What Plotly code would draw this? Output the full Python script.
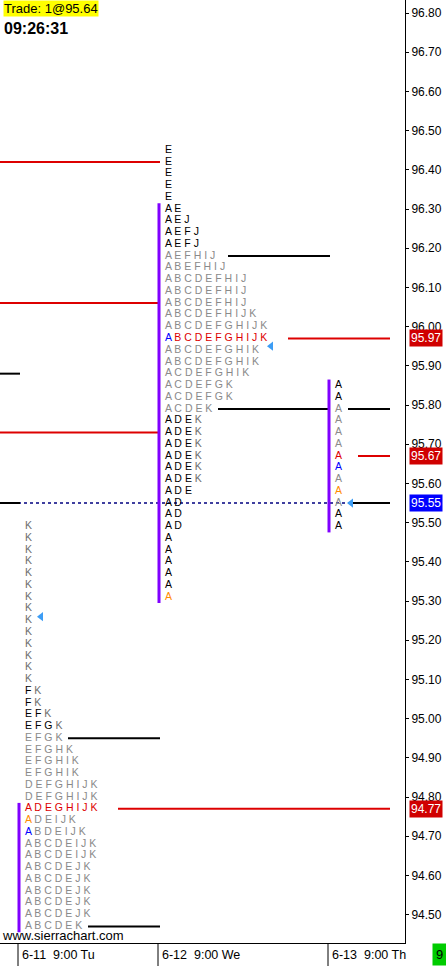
import plotly.graph_objects as go

# ---------------- data ----------------
session_labels = ["6-11  9:00 Tu", "6-12  9:00 We", "6-13  9:00 Th"]
session_bar = [18, 158, 328]          # bar index where each session starts

s1_prices = [95.49, 95.46, 95.43, 95.40, 95.37, 95.34, 95.31, 95.28, 95.25, 95.22,
             95.19, 95.16, 95.13, 95.10, 95.07, 95.04, 95.01, 94.98, 94.95, 94.92,
             94.89, 94.86, 94.83, 94.80, 94.77, 94.74, 94.71, 94.68, 94.65, 94.62,
             94.59, 94.56, 94.53, 94.50, 94.47]
s1_tpo = ["K", "K", "K", "K", "K", "K", "K", "K", "K", "K",
          "K", "K", "K", "K", "FK", "FK", "EFK", "EFGK", "EFGK", "EFGHK",
          "EFGHIK", "EFGHIK", "DEFGHIJK", "DEFGHIJK", "ADEGHIJK", "ADEIJK", "ABDEIJK",
          "ABCDEIJK", "ABCDEIJK", "ABCDEJK",
          "ABCDEJK", "ABCDEJK", "ABCDEJK", "ABCDEJK", "ABCDEK"]

s2_prices = [96.45, 96.42, 96.39, 96.36, 96.33, 96.30, 96.27, 96.24, 96.21, 96.18,
             96.15, 96.12, 96.09, 96.06, 96.03, 96.00, 95.97, 95.94, 95.91, 95.88,
             95.85, 95.82, 95.79, 95.76, 95.73, 95.70, 95.67, 95.64, 95.61, 95.58,
             95.55, 95.52, 95.49, 95.46, 95.43, 95.40, 95.37, 95.34, 95.31]
s2_tpo = ["E", "E", "E", "E", "E", "AE", "AEJ", "AEFJ", "AEFJ", "AEFHIJ",
          "ABEFHIJ", "ABCDEFHIJ", "ABCDEFHIJ", "ABCDEFHIJ", "ABCDEFHIJK", "ABCDEFGHIJK",
          "ABCDEFGHIJK", "ABCDEFGHIK", "ABCDEFGHIK", "ACDEFGHIK",
          "ACDEFGK", "ACDEFGK", "ACDEK", "ADEK", "ADEK", "ADEK", "ADEK", "ADEK", "ADEK", "ADE",
          "AD", "AD", "AD", "A", "A", "A", "A", "A", "A"]

s3_prices = [95.85, 95.82, 95.79, 95.76, 95.73, 95.70, 95.67, 95.64, 95.61, 95.58,
             95.55, 95.52, 95.49]
s3_tpo = ["A"] * 13

session_prices = [s1_prices, s2_prices, s3_prices]
session_tpo = [s1_tpo, s2_tpo, s3_tpo]
va_high = [94.95, 96.18, 95.79]
va_low = [94.47, 95.79, 95.55]
poc = [94.77, 95.97, 95.67]
open_price = [94.74, 95.31, 95.58]
mark_price = [94.71, 95.97, 95.64]
ib_high = [94.77, 96.30, 95.85]
ib_low = [94.47, 95.31, 95.49]
arrow_price = [95.26, 95.95, 95.55]
arrow_bar = [41, 271, 351]

# extended levels: (price, start bar, end bar)
red_levels = [(96.42, 0, 160), (96.06, 0, 160), (95.73, 0, 160),
              (95.97, 288, 390), (94.77, 118, 390), (95.67, 358, 390)]
black_levels = [(95.88, 0, 20), (95.55, 0, 20), (96.18, 228, 330), (95.79, 218, 330),
                (95.79, 348, 390), (95.55, 348, 390), (94.95, 68, 160), (94.47, 88, 160)]
last_price_line = (95.55, 0, 390)

axis_ticks = [94.50, 94.60, 94.70, 94.80, 94.90, 95.00, 95.10, 95.20, 95.30, 95.40,
              95.50, 95.60, 95.70, 95.80, 95.90, 96.00, 96.10, 96.20, 96.30, 96.40,
              96.50, 96.60, 96.70, 96.80]
price_boxes = [(95.97, "#d00000"), (95.67, "#d00000"), (95.55, "#0000ff"), (94.77, "#d00000")]

y_range = [94.4276, 96.8332]
x_range = [0, 405]

# ---------------- figure ----------------
RED, BLUE, ORANGE, GRAY, KGRAY = "#dd0000", "#0000ff", "#ff8c00", "#8a8a8a", "#6e6e6e"

fig = go.Figure()

# dotted last-price line
fig.add_trace(go.Scatter(x=[last_price_line[1], last_price_line[2]],
                         y=[last_price_line[0]] * 2, mode="lines",
                         line=dict(color="#000080", width=1.5, dash="dot"),
                         hoverinfo="skip", showlegend=False))

def seg_xy(levels):
    xs, ys = [], []
    for p, a, b in levels:
        xs += [a, b, None]
        ys += [p, p, None]
    return xs, ys

xs, ys = seg_xy(red_levels)
fig.add_trace(go.Scatter(x=xs, y=ys, mode="lines", line=dict(color="#dd0000", width=2),
                         hoverinfo="skip", showlegend=False))
xs, ys = seg_xy(black_levels)
fig.add_trace(go.Scatter(x=xs, y=ys, mode="lines", line=dict(color="#000000", width=2),
                         hoverinfo="skip", showlegend=False))

# initial-balance bars
ibx, iby = [], []
for i in range(3):
    ibx += [session_bar[i] + 1, session_bar[i] + 1, None]
    iby += [ib_high[i] + 0.015, ib_low[i] - 0.015, None]
fig.add_trace(go.Scatter(x=ibx, y=iby, mode="lines", line=dict(color="#8000ff", width=3),
                         hoverinfo="skip", showlegend=False))

# TPO letters
def letter_color(i, p, ch):
    p = round(p, 2)
    if ch == "A" and p == round(mark_price[i], 2):
        return BLUE
    if p == round(poc[i], 2):
        return RED
    if ch == "A" and p == round(open_price[i], 2):
        return ORANGE
    if va_low[i] - 1e-9 <= p <= va_high[i] + 1e-9:
        return GRAY
    if ch == "K":
        return KGRAY
    return "#000000"

for i in range(3):
    texts = []
    for p, row in zip(session_prices[i], session_tpo[i]):
        parts = [f"<span style='color:{letter_color(i, p, ch)}'>{ch}</span>" for ch in row]
        texts.append(" ".join(parts))
    fig.add_trace(go.Scatter(x=[session_bar[i] + 7] * len(texts), y=session_prices[i],
                             mode="text", text=texts, textposition="middle right",
                             textfont=dict(family="Liberation Sans, Arial", size=10.5, color="#000"),
                             hoverinfo="skip", showlegend=False))

# arrows
fig.add_trace(go.Scatter(x=arrow_bar, y=arrow_price, mode="markers",
                         marker=dict(symbol="triangle-left", size=8, color="#3d9df5"),
                         hoverinfo="skip", showlegend=False))

shapes = []
annotations = []
for i, lab in enumerate(session_labels):
    shapes.append(dict(type="line", xref="x", yref="paper", x0=session_bar[i], x1=session_bar[i],
                       y0=-23 / 943, y1=0, line=dict(color="black", width=1)))
    annotations.append(dict(xref="x", yref="paper", x=session_bar[i], y=-11.5 / 943,
                            xanchor="left", yanchor="middle", xshift=2, text=lab, showarrow=False,
                            font=dict(family="Liberation Sans, Arial", size=12.5, color="black")))

for p, c in price_boxes:
    annotations.append(dict(xref="paper", yref="y", x=1, y=p, xanchor="left", yanchor="middle",
                            xshift=4, text=f"{p:.2f}", showarrow=False, bgcolor=c, borderpad=1,
                            font=dict(family="Liberation Sans, Arial", size=12, color="white")))

annotations.append(dict(xref="paper", yref="paper", x=0, y=1, xanchor="left", yanchor="top",
                        xshift=3, text="Trade: 1@95.64", showarrow=False, bgcolor="#ffff00",
                        borderpad=0, font=dict(family="Liberation Sans, Arial", size=13, color="black")))
annotations.append(dict(xref="paper", yref="paper", x=0, y=1, xanchor="left", yanchor="top",
                        xshift=2, yshift=-18, text="<b>09:26:31</b>", showarrow=False,
                        font=dict(family="Liberation Sans, Arial", size=16, color="black")))
annotations.append(dict(xref="paper", yref="paper", x=0, y=0, xanchor="left", yanchor="bottom",
                        xshift=0, yshift=-2, text="www.sierrachart.com", showarrow=False,
                        font=dict(family="Liberation Sans, Arial", size=13, color="black")))
annotations.append(dict(xref="paper", yref="paper", x=1, y=-11.5 / 943, xanchor="left",
                        yanchor="middle", xshift=27, text="9", showarrow=False, bgcolor="#00cc00",
                        borderpad=3, font=dict(family="Liberation Sans, Arial", size=13, color="black")))

fig.update_layout(
    width=446, height=966,
    margin=dict(l=0, r=41, t=0, b=23),
    paper_bgcolor="white", plot_bgcolor="white",
    showlegend=False,
    shapes=shapes, annotations=annotations,
    xaxis=dict(range=x_range, showgrid=False, zeroline=False, showticklabels=False,
               ticks="", showline=True, linecolor="black", linewidth=1, fixedrange=True),
    yaxis=dict(range=y_range, side="right", showgrid=False, zeroline=False, automargin=False,
               tickvals=axis_ticks, ticktext=[f"{v:.2f}" for v in axis_ticks],
               ticks="outside", ticklen=3, tickcolor="black", showline=True,
               linecolor="black", linewidth=1, mirror=True,
               tickfont=dict(family="Liberation Sans, Arial", size=12, color="black")),
)

fig.write_html("out.html", config={"displayModeBar": False},
               post_script="document.body.style.margin='0';document.body.style.padding='0';"
                           "document.body.style.overflow='hidden';")
